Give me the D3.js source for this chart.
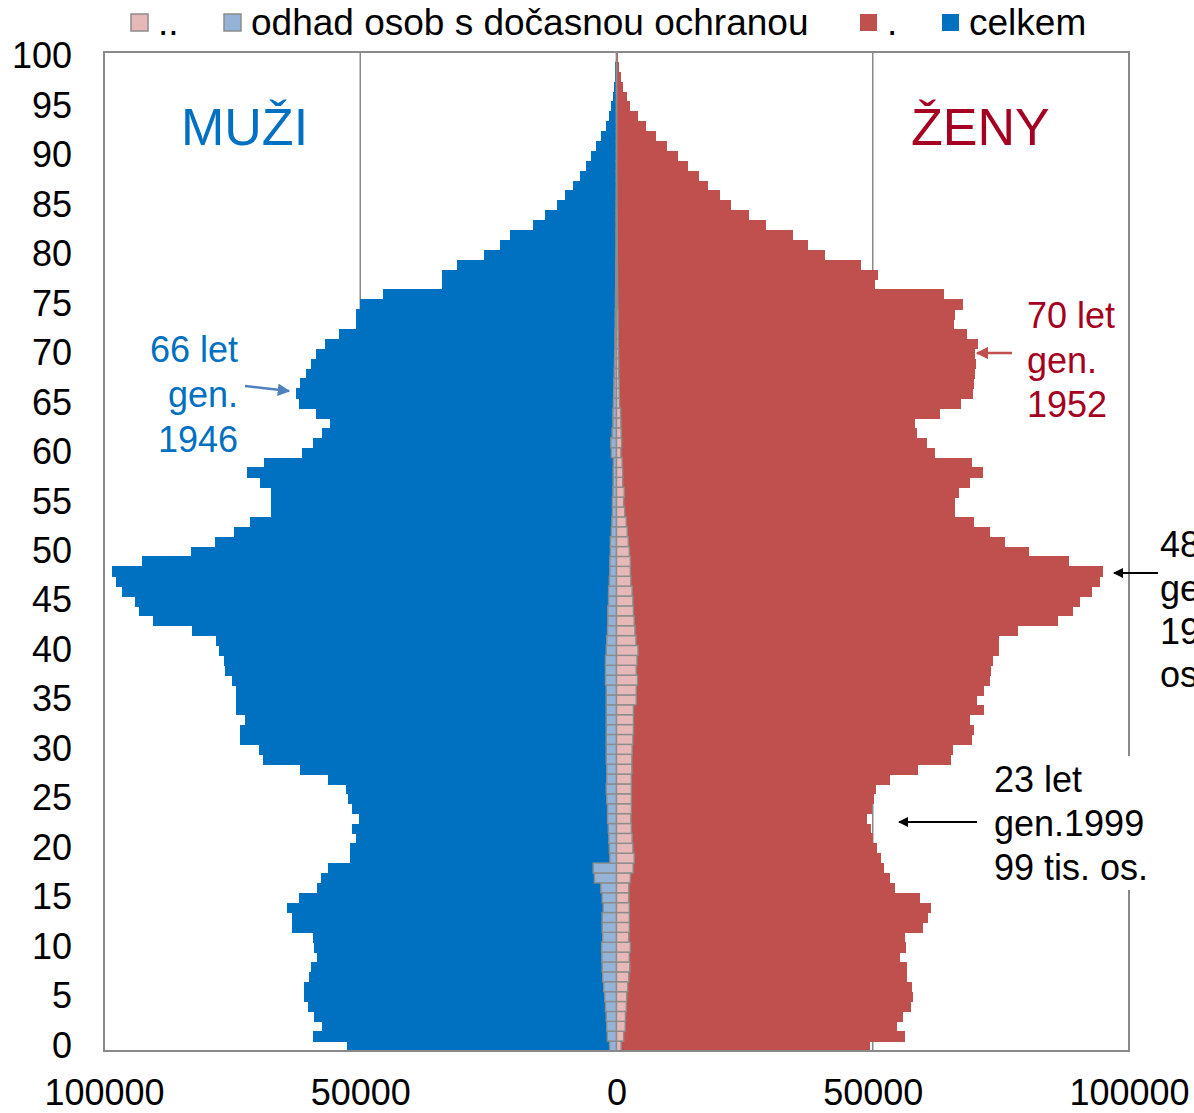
<!DOCTYPE html>
<html><head><meta charset="utf-8">
<script src="https://cdn.jsdelivr.net/npm/d3@7"></script>
<style>html,body{margin:0;padding:0;background:#fff;overflow:hidden}svg{display:block;font-family:"Liberation Sans",Arial,sans-serif}</style>
</head><body><svg id="c" width="1194" height="1113"></svg>
<script>
// ages 0..100
const ages = d3.range(0, 101);
// male totals (celkem), persons
const maleTotal = [52500,59300,57400,59100,60200,61000,60900,60000,59700,58400,
59100,59300,63300,63300,64200,61900,58400,57700,56300,52000,
52000,50900,51600,50300,51600,52300,52700,56300,61700,68900,
69700,73500,73500,72500,74300,74200,74200,75000,76400,76600,
77600,78100,82800,90500,93100,94000,96500,97600,98500,92600,
83100,78300,74700,71600,67500,67500,67500,69500,72100,68700,
61400,59300,57500,56000,58700,61900,62500,61700,60600,59700,
58700,56800,54200,50800,50800,50100,45600,34100,34100,31100,
25800,22800,20700,16300,14000,11600,10000,8500,7200,5900,
4900,4000,3000,2000,1400,1000,700,400,300,200,100];
// female totals, persons
const femaleTotal = [49400,56300,54800,55900,57500,57900,57600,56700,56600,55300,
56500,56200,59800,60800,61300,59200,54400,53300,52200,51600,
50900,50100,49600,48800,49900,50300,50700,53300,58900,65300,
65700,69300,69800,69000,71700,70400,71700,72800,73000,73400,
74700,74700,78400,86100,89000,90500,92700,94400,95000,88300,
80500,75900,72800,69700,66100,66100,66900,69000,71500,69300,
62200,60600,58700,58300,63200,67300,69600,69800,70000,70200,
69900,70600,68400,65800,66000,67700,63900,50500,51100,47700,
40700,37400,34500,29100,25800,22400,20200,17900,16100,13900,
12000,9800,7800,5700,4100,2700,2000,1200,850,450,300];
// estimate of persons with temporary protection - males
const maleRefugees = [1350,1800,1900,2000,2150,2300,2500,2700,2800,2850,
2900,2700,2800,2800,2600,2800,3050,4300,4550,1300,
1400,1500,1600,1750,1750,1900,2000,1900,1900,2000,
2000,2000,2000,2000,2000,2000,2000,2150,2150,2150,
2000,1900,1750,1700,1700,1550,1550,1400,1300,1300,
1200,1200,1000,900,800,800,700,650,650,600,
1000,1100,850,700,700,600,550,500,450,400,
350,300,300,250,250,200,200,150,150,150,
120,100,100,80,80,70,60,50,50,40,
30,30,20,20,20,10,10,10,10,10,10];
// estimate of persons with temporary protection - females
const femaleRefugees = [900,1400,1700,1750,1900,2000,2200,2400,2600,2500,
2700,2400,2500,2500,2500,2400,2400,2700,3250,3450,
3200,3050,2900,2800,2900,2900,2900,2900,3000,3000,
3050,3200,3300,3300,3300,3850,3850,4100,3850,4000,
4200,3800,3600,3450,3300,3200,3050,2800,2700,2700,
2500,2300,2100,1900,1600,1400,1500,1200,1200,1100,
850,1000,900,850,800,600,550,500,450,450,
400,350,350,300,300,250,250,200,200,180,
160,140,120,100,100,80,70,60,50,40,
30,30,20,20,20,10,10,10,10,10,10];
const ageTicks = d3.range(0, 101, 5);
const xTicks = [-100000, -50000, 0, 50000, 100000];
const legendItems = [
  {label: "..", fill: "#E6B9B8", stroke: "#8c8c8c"},
  {label: "odhad osob s dočasnou ochranou", fill: "#95B3D7", stroke: "#8c8c8c"},
  {label: ".", fill: "#C0504D", stroke: "none"},
  {label: "celkem", fill: "#0070C0", stroke: "none"}
];
const legendX = [131, 224, 860, 942];

const svg = d3.select("#c");
const L = 104, R = 1129, T = 52, B = 1051;
const x = d3.scaleLinear().domain([-100000, 100000]).range([L, R]);
const y = d3.scaleBand().domain(ages.slice().reverse()).range([T, B]).padding(0);
const grid = "#898989";

// gridlines
svg.append("g").selectAll("line").data([-50000, 50000]).join("line")
  .attr("x1", d => x(d)).attr("x2", d => x(d)).attr("y1", T).attr("y2", B)
  .attr("stroke", grid).attr("stroke-width", 1.5);

// total bars
svg.append("g").attr("shape-rendering", "crispEdges").selectAll("rect").data(ages).join("rect")
  .attr("x", a => x(-maleTotal[a])).attr("width", a => x(0) - x(-maleTotal[a]))
  .attr("y", a => y(a)).attr("height", y.bandwidth() + 0.6).attr("fill", "#0070C0");
svg.append("g").attr("shape-rendering", "crispEdges").selectAll("rect").data(ages).join("rect")
  .attr("x", x(0)).attr("width", a => x(femaleTotal[a]) - x(0))
  .attr("y", a => y(a)).attr("height", y.bandwidth() + 0.6).attr("fill", "#C0504D");

// refugee bars
svg.append("g").selectAll("rect").data(ages).join("rect")
  .attr("x", a => x(-maleRefugees[a])).attr("width", a => x(0) - x(-maleRefugees[a]))
  .attr("y", a => y(a)).attr("height", y.bandwidth())
  .attr("fill", "#95B3D7").attr("stroke", "#8c8c8c").attr("stroke-width", 1.4);
svg.append("g").selectAll("rect").data(ages).join("rect")
  .attr("x", x(0)).attr("width", a => x(femaleRefugees[a]) - x(0))
  .attr("y", a => y(a)).attr("height", y.bandwidth())
  .attr("fill", "#E6B9B8").attr("stroke", "#8c8c8c").attr("stroke-width", 1.4);

// plot border
svg.append("rect").attr("x", L).attr("y", T).attr("width", R - L).attr("height", B - T)
  .attr("fill", "none").attr("stroke", grid).attr("stroke-width", 2);

// axes
const yAxis = d3.axisLeft(y).tickValues(ageTicks).tickSize(0).tickPadding(32);
const gy = svg.append("g").attr("transform", `translate(${L},0)`).call(yAxis);
gy.select(".domain").remove();
gy.selectAll("text").attr("font-size", 36).attr("fill", "#000").attr("font-family", "Liberation Sans, Arial, sans-serif");

const xAxis = d3.axisBottom(x).tickValues(xTicks).tickSize(0).tickPadding(28).tickFormat(d => String(Math.abs(d)));
const gx = svg.append("g").attr("transform", `translate(0,${B})`).call(xAxis);
gx.select(".domain").remove();
gx.selectAll("text").attr("font-size", 36).attr("fill", "#000").attr("font-family", "Liberation Sans, Arial, sans-serif");

// legend
const lg = svg.append("g");
legendItems.forEach((it, i) => {
  lg.append("rect").attr("x", legendX[i]).attr("y", 14).attr("width", 17).attr("height", 17)
    .attr("fill", it.fill).attr("stroke", it.stroke).attr("stroke-width", it.stroke === "none" ? 0 : 1.5);
  lg.append("text").attr("x", legendX[i] + 27).attr("y", 35).attr("font-size", 37)
    .attr("fill", "#000").text(it.label);
});

// titles
svg.append("text").attr("x", 181).attr("y", 145).attr("font-size", 52).attr("fill", "#0070C0").text("MUŽI");
svg.append("text").attr("x", 911).attr("y", 145).attr("font-size", 52).attr("fill", "#A50021").text("ŽENY");

// arrow markers
const defs = svg.append("defs");
function marker(id, color) {
  defs.append("marker").attr("id", id).attr("viewBox", "0 0 10 10").attr("refX", 9).attr("refY", 5)
    .attr("markerWidth", 5).attr("markerHeight", 5).attr("orient", "auto").attr("markerUnits", "strokeWidth")
    .append("path").attr("d", "M0,0L10,5L0,10z").attr("fill", color);
}
marker("aBlue", "#4F81BD"); marker("aRed", "#C0504D"); marker("aBlack", "#000");

function multiline(xp, ys, lines, color, anchor) {
  const t = svg.append("text").attr("font-size", 36).attr("fill", color).attr("text-anchor", anchor);
  lines.forEach((l, i) => t.append("tspan").attr("x", xp).attr("y", ys[i]).text(l));
}
// 66 let
multiline(238, [362, 407, 452], ["66 let", "gen.", "1946"], "#0070C0", "end");
svg.append("line").attr("x1", 245).attr("y1", 386).attr("x2", 289).attr("y2", 391)
  .attr("stroke", "#4F81BD").attr("stroke-width", 2.5).attr("marker-end", "url(#aBlue)");
// 70 let
multiline(1027, [328, 373, 417], ["70 let", "gen.", "1952"], "#A50021", "start");
svg.append("line").attr("x1", 1012).attr("y1", 353).attr("x2", 977).attr("y2", 353)
  .attr("stroke", "#C0504D").attr("stroke-width", 2.5).attr("marker-end", "url(#aRed)");
// 48 let
multiline(1160, [557, 601, 644, 687], ["48 let", "gen.1974", "193 tis.", "os."], "#000", "start");
svg.append("line").attr("x1", 1158).attr("y1", 573).attr("x2", 1114).attr("y2", 573)
  .attr("stroke", "#000").attr("stroke-width", 2).attr("marker-end", "url(#aBlack)");
// 23 let (white box covers border)
svg.append("rect").attr("x", 986).attr("y", 756).attr("width", 200).attr("height", 134).attr("fill", "#fff");
multiline(994, [792, 836, 880], ["23 let", "gen.1999", "99 tis. os."], "#000", "start");
svg.append("line").attr("x1", 977).attr("y1", 822).attr("x2", 899).attr("y2", 822)
  .attr("stroke", "#000").attr("stroke-width", 2).attr("marker-end", "url(#aBlack)");
</script></body></html>
